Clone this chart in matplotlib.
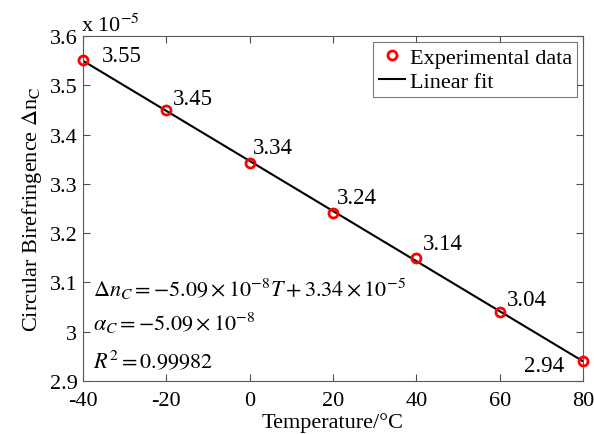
import matplotlib
matplotlib.use("Agg")
import matplotlib.pyplot as plt
import numpy as np
from matplotlib.ticker import FormatStrFormatter

# data (birefringence in units of 1e-5)
temps = [-40, -20, 0, 20, 40, 60, 80]
biref = [3.551, 3.450, 3.342, 3.241, 3.150, 3.040, 2.940]
point_labels = ['3.55', '3.45', '3.34', '3.24', '3.14', '3.04', '2.94']
label_offsets = [(19, 5), (7, 11), (3, 16), (4, 15), (7, 14), (7, 13), (-19, -4)]
x_ticks = [-40, -20, 0, 20, 40, 60, 80]
y_ticks = [2.9, 3.0, 3.1, 3.2, 3.3, 3.4, 3.5, 3.6]

plt.rcParams['font.family'] = ['Liberation Serif', 'DejaVu Serif']
plt.rcParams['mathtext.fontset'] = 'stix'
plt.rcParams['axes.unicode_minus'] = False

fig = plt.figure(figsize=(5.94, 4.35), dpi=100)
ax = fig.add_axes([0.1397, 0.1218, 0.8418, 0.7932])

coef = np.polyfit(temps, biref, 1)
t_fit = np.array([temps[0], temps[-1]])
ax.plot(t_fit, np.polyval(coef, t_fit), color='black', lw=1.5, label='Linear fit', zorder=2)
ax.plot(temps, biref, 'o', mfc='none', mec='red', mew=2, ms=6.5,
        label='Experimental data', zorder=3, clip_on=False)

for t, b, s, off in zip(temps, biref, point_labels, label_offsets):
    ax.annotate(s, (t, b), xytext=off, textcoords='offset pixels',
                ha='left' if off[0] > 0 else 'right', va='center', fontsize=16.5)

ax.set_xlim(-40, 80)
ax.set_ylim(2.9, 3.6)
ax.set_xticks(x_ticks)
ax.set_yticks(y_ticks)
ax.yaxis.set_major_formatter(FormatStrFormatter('%g'))
ax.tick_params(direction='in', top=True, right=True, labelsize=16, color='0.3', length=5)
ax.tick_params(axis='x', pad=7)
ax.tick_params(axis='y', pad=4)
for sp in ax.spines.values():
    sp.set_color('0.35')

ax.set_xlabel('Temperature/°C', fontsize=16)
ax.xaxis.set_label_coords(0.5, -0.09)
ax.set_ylabel(r'Circular Birefringence $\Delta$n$_{\mathrm{C}}$', fontsize=16, labelpad=4)
ax.text(-0.003, 1.0, r'x 10$^{-5}$', transform=ax.transAxes, fontsize=16, ha='left', va='bottom')

ax.text(0.02, 0.27, r'$\Delta n_C = -5.09\times10^{-8}T + 3.34\times10^{-5}$',
        transform=ax.transAxes, fontsize=16, va='center')
ax.text(0.02, 0.17, r'$\alpha_C = -5.09\times10^{-8}$',
        transform=ax.transAxes, fontsize=16, va='center')
ax.text(0.02, 0.06, r'$R^2 = 0.99982$',
        transform=ax.transAxes, fontsize=16, va='center')

leg = ax.legend(handles=ax.get_lines()[::-1], loc='upper right', fontsize=16,
                fancybox=False, edgecolor='0.35', handlelength=1.2, handletextpad=0.2,
                borderpad=0.25, labelspacing=0.15, borderaxespad=0.25)
leg.get_frame().set_linewidth(0.8)

fig.savefig('out.png', dpi=100, facecolor='white')
